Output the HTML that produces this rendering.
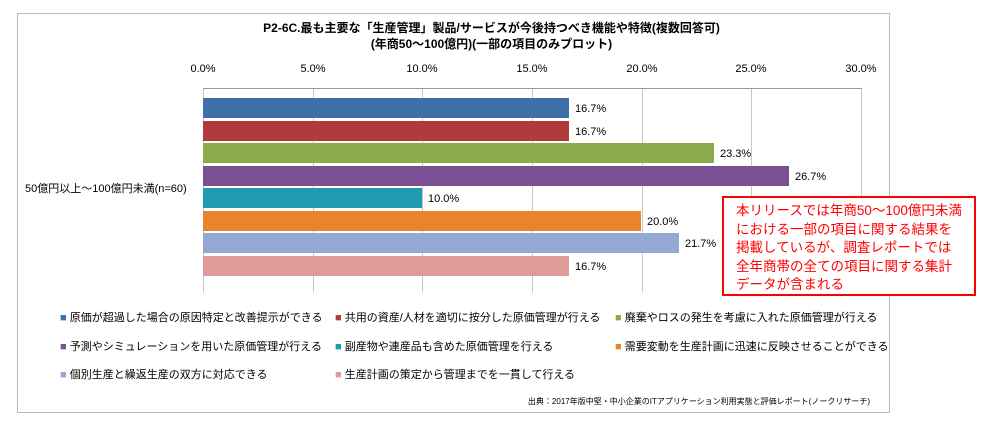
<!DOCTYPE html>
<html><head><meta charset="utf-8"><style>
body{margin:0;background:#fff;width:983px;height:425px;overflow:hidden;font-family:"Liberation Sans","Noto Sans CJK JP",sans-serif;}
.a{position:absolute;white-space:nowrap}
</style></head><body>
<div class="a" style="left:17px;top:13px;width:871px;height:398px;border:1px solid #bbb"></div>
<div class="a" style="left:0;width:983px;top:20px;text-align:center;font-size:12px;font-weight:bold;line-height:16px">P2-6C.最も主要な「生産管理」製品/サービスが今後持つべき機能や特徴(複数回答可)<br>(年商50～100億円)(一部の項目のみプロット)</div>
<svg class="a" style="left:0;top:0" width="983" height="425">
<g stroke="#c8c8c8" stroke-width="1">
<line x1="203.5" y1="88" x2="203.5" y2="292"/><line x1="313.5" y1="88" x2="313.5" y2="292"/><line x1="422.5" y1="88" x2="422.5" y2="292"/><line x1="532.5" y1="88" x2="532.5" y2="292"/><line x1="642.5" y1="88" x2="642.5" y2="292"/><line x1="751.5" y1="88" x2="751.5" y2="292"/><line x1="861.5" y1="88" x2="861.5" y2="292"/>
</g>
<line x1="203" y1="88.5" x2="862" y2="88.5" stroke="#999"/>
<g font-size="11" text-anchor="middle" font-family="Liberation Sans,sans-serif">
<text x="203" y="72">0.0%</text><text x="313" y="72">5.0%</text><text x="422" y="72">10.0%</text><text x="532" y="72">15.0%</text><text x="642" y="72">20.0%</text><text x="751" y="72">25.0%</text><text x="861" y="72">30.0%</text>
</g>
<rect x="203" y="98" width="366" height="20" fill="#3f6fa8"/>
<rect x="203" y="121" width="366" height="20" fill="#b33a3a"/>
<rect x="203" y="143" width="511" height="20" fill="#8aac4a"/>
<rect x="203" y="166" width="586" height="20" fill="#7a4f93"/>
<rect x="203" y="188" width="219" height="20" fill="#1f9bb0"/>
<rect x="203" y="211" width="438" height="20" fill="#e8842c"/>
<rect x="203" y="233" width="476" height="20" fill="#93a9d4"/>
<rect x="203" y="256" width="366" height="20" fill="#e09a9a"/>
<g font-size="11" font-family="Liberation Sans,sans-serif">
<text x="575" y="112">16.7%</text><text x="575" y="135">16.7%</text><text x="720" y="157">23.3%</text><text x="795" y="180">26.7%</text><text x="428" y="202">10.0%</text><text x="647" y="225">20.0%</text><text x="685" y="247">21.7%</text><text x="575" y="270">16.7%</text>
</g>
</svg>
<div class="a" style="left:25px;top:180px;font-size:11px">50億円以上～100億円未満(n=60)</div>
<div class="a" style="left:722px;top:196px;border:2px solid #f00;background:#fff;color:#f00;font-size:13.5px;line-height:18.5px;padding:4px 0 0 12px;box-sizing:border-box;width:254px;height:100px">本リリースでは年商50～100億円未満<br>における一部の項目に関する結果を<br>掲載しているが、調査レポートでは<br>全年商帯の全ての項目に関する集計<br>データが含まれる</div>
<div style="font-size:11px">
<div class="a" style="left:60px;top:309px"><span style="color:#3f6fa8">■</span> 原価が超過した場合の原因特定と改善提示ができる</div>
<div class="a" style="left:335px;top:309px"><span style="color:#b33a3a">■</span> 共用の資産/人材を適切に按分した原価管理が行える</div>
<div class="a" style="left:615px;top:309px"><span style="color:#8aac4a">■</span> 廃棄やロスの発生を考慮に入れた原価管理が行える</div>
<div class="a" style="left:60px;top:338px"><span style="color:#7a4f93">■</span> 予測やシミュレーションを用いた原価管理が行える</div>
<div class="a" style="left:335px;top:338px"><span style="color:#1f9bb0">■</span> 副産物や連産品も含めた原価管理を行える</div>
<div class="a" style="left:615px;top:338px"><span style="color:#e8842c">■</span> 需要変動を生産計画に迅速に反映させることができる</div>
<div class="a" style="left:60px;top:366px"><span style="color:#93a9d4">■</span> 個別生産と繰返生産の双方に対応できる</div>
<div class="a" style="left:335px;top:366px"><span style="color:#e09a9a">■</span> 生産計画の策定から管理までを一貫して行える</div>
</div>
<div class="a" style="right:113px;top:396px;font-size:8px">出典：2017年版中堅・中小企業のITアプリケーション利用実態と評価レポート(ノークリサーチ)</div>
</body></html>
